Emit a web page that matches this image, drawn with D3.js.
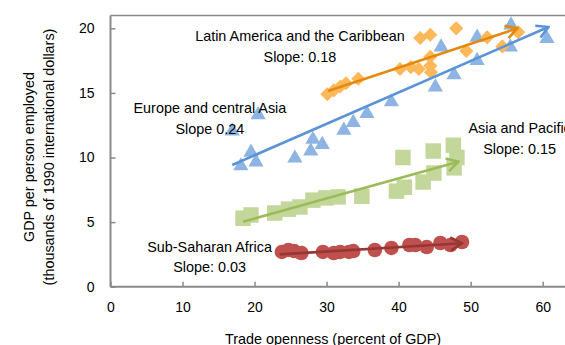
<!DOCTYPE html>
<html><head><meta charset="utf-8">
<script src="https://cdn.jsdelivr.net/npm/d3@7"></script>
<style>
html,body{margin:0;padding:0;background:#fff;overflow:hidden}
text{font-family:"Liberation Sans",Arial,sans-serif;fill:#000}
</style></head>
<body><svg id="c" width="565" height="345"></svg>
<script>
// ---- data ----
const xTicks = [0,10,20,30,40,50,60];
const yTicks = [0,5,10,15,20];

const europeX = [16.9,20.5,18.1,19.5,20.2,25.6,28.1,29.4,27.8,32.4,33.7,35.6,39.0,45.1,47.7,45.9,50.9,50.9,55.6,55.5,60.6];
const europeY = [12.05,13.3,9.35,10.4,9.65,9.95,11.4,11.0,10.5,12.1,12.7,13.4,14.3,15.45,16.4,18.55,19.3,17.5,20.25,18.55,19.2];

const latamX = [30.1,31.0,31.9,32.7,34.4,40.2,41.7,42.8,44.4,44.5,44.4,43.0,44.4,48.0,49.4,52.3,54.4,56.6];
const latamY = [14.9,15.2,15.5,15.75,16.1,16.85,17.0,16.85,17.1,16.6,17.8,19.25,19.5,20.0,18.25,19.3,18.6,19.7];

const asiaX = [18.4,19.5,22.8,24.7,26.3,28.1,29.9,31.6,34.9,39.7,40.8,40.6,43.4,44.9,44.8,47.6,48.1,47.7];
const asiaY = [5.3,5.55,5.7,6.0,6.17,6.7,6.87,6.95,7.0,7.4,7.7,10.0,8.1,8.8,10.5,10.95,10.0,9.2];

const africaX = [23.8,24.7,25.5,26.5,29.5,31.0,31.9,33.1,33.7,36.7,39.0,41.5,42.3,43.9,45.8,47.2,48.8];
const africaY = [2.69,2.84,2.76,2.61,2.69,2.61,2.69,2.69,2.76,2.84,3.0,3.23,3.23,3.07,3.38,3.23,3.46];

// trend arrows: [x0,y0,x1,y1]
const europeTrend = [16.9,9.42,60.8,20.1];
const latamTrend = [30.2,15.15,56.5,20.0];
const asiaTrend = [18.4,5.03,48.3,9.67];
const africaTrend = [23.5,2.5,48.8,3.36];

const labels = [
  {lines:["Latin America and the Caribbean","Slope: 0.18"], x:26.3, y:19.4},
  {lines:["Europe and central Asia","Slope 0.24"], x:13.8, y:13.83},
  {lines:["Asia and Pacific","Slope: 0.15"], x:56.8, y:12.25},
  {lines:["Sub-Saharan Africa","Slope: 0.03"], x:13.75, y:3.1}
];

// ---- chart ----
const svg = d3.select("#c");
const x = d3.scaleLinear().domain([0,63.1]).range([110.5,565]);
const y = d3.scaleLinear().domain([0,21]).range([286.7,15.4]);

const defs = svg.append("defs");
function marker(id,color){
  defs.append("marker").attr("id",id).attr("viewBox","0 0 14 16")
    .attr("refX",12.5).attr("refY",8).attr("markerWidth",14).attr("markerHeight",16)
    .attr("markerUnits","userSpaceOnUse").attr("orient","auto")
    .append("path").attr("d","M1,1.5 L12.5,8 L1,14.5").attr("fill","none")
    .attr("stroke",color).attr("stroke-width",2.6).attr("stroke-linecap","butt");
}

// axes frame
const axisColor = "#8a8a8a";
svg.append("line").attr("x1",x(0)).attr("x2",565).attr("y1",y(21)).attr("y2",y(21))
  .attr("stroke",axisColor).attr("stroke-width",1.5);

const gx = svg.append("g").attr("transform",`translate(0,${y(0)})`)
  .call(d3.axisBottom(x).tickValues(xTicks).tickSize(-5).tickPadding(15).tickFormat(d3.format("d")));
const gy = svg.append("g").attr("transform",`translate(${x(0)},0)`)
  .call(d3.axisLeft(y).tickValues(yTicks).tickSize(-5).tickPadding(16).tickFormat(d3.format("d")));
[gx,gy].forEach(g=>{
  g.select(".domain").attr("stroke",axisColor).attr("stroke-width",2);
  g.selectAll(".tick line").attr("stroke",axisColor).attr("stroke-width",1.5);
  g.selectAll(".tick text").attr("font-size",14).attr("font-family","Liberation Sans, Arial, sans-serif").attr("fill","#000");
});
gx.select(".domain").attr("d",`M${x(0)},0H565`);
gy.select(".domain").attr("d",`M0,${y(0)}V${y(21)}`);

// axis titles
svg.append("text").attr("x",333).attr("y",344).attr("text-anchor","middle")
  .attr("font-size",14.4).text("Trade openness (percent of GDP)");
const yt = svg.append("text").attr("transform","translate(29,157) rotate(-90)")
  .attr("text-anchor","middle").attr("font-size",14.4);
yt.append("tspan").attr("x",0).attr("dy","0.35em").text("GDP per person employed");
yt.append("tspan").attr("x",0).attr("dy","1.4em").text("(thousands of 1990 international dollars)");

const plot = svg.append("g");
function pts(xs,ys){return xs.map((v,i)=>[v,ys[i]]);}

// Europe triangles
plot.append("g").selectAll("path").data(pts(europeX,europeY)).join("path")
  .attr("d",d3.symbol().type(d3.symbolTriangle).size(100))
  .attr("transform",d=>`translate(${x(d[0])},${y(d[1])})`).attr("fill","#8EB4E3");
// Latin America diamonds
plot.append("g").selectAll("path").data(pts(latamX,latamY)).join("path")
  .attr("d",d3.symbol().type(d3.symbolSquare).size(100))
  .attr("transform",d=>`translate(${x(d[0])},${y(d[1])}) rotate(45)`).attr("fill","#FDB85A");
// Asia squares
plot.append("g").selectAll("path").data(pts(asiaX,asiaY)).join("path")
  .attr("d",d3.symbol().type(d3.symbolSquare).size(240))
  .attr("transform",d=>`translate(${x(d[0])},${y(d[1])})`).attr("fill","#C4D79B");
// Africa circles
plot.append("g").selectAll("circle").data(pts(africaX,africaY)).join("circle")
  .attr("cx",d=>x(d[0])).attr("cy",d=>y(d[1])).attr("r",7.3).attr("fill","#C0504D");

// trend arrows
const trends = [
  [latamTrend,"#E3890E","mo"],
  [europeTrend,"#5A93D8","mb"],
  [asiaTrend,"#9BBB59","mg"],
  [africaTrend,"#953735","mr"]
];
trends.forEach(([t,c,id])=>{
  marker(id,c);
  plot.append("line").attr("x1",x(t[0])).attr("y1",y(t[1])).attr("x2",x(t[2])).attr("y2",y(t[3]))
    .attr("stroke",c).attr("stroke-width",2.6).attr("marker-end",`url(#${id})`);
});

// labels
labels.forEach(l=>{
  const t = svg.append("text").attr("text-anchor","middle").attr("font-size",14.4)
    .attr("transform",`translate(${x(l.x)},${y(l.y)})`);
  l.lines.forEach((s,i)=>t.append("tspan").attr("x",0).attr("y",i*20.5).attr("dy","0.35em").text(s));
});
</script></body></html>
